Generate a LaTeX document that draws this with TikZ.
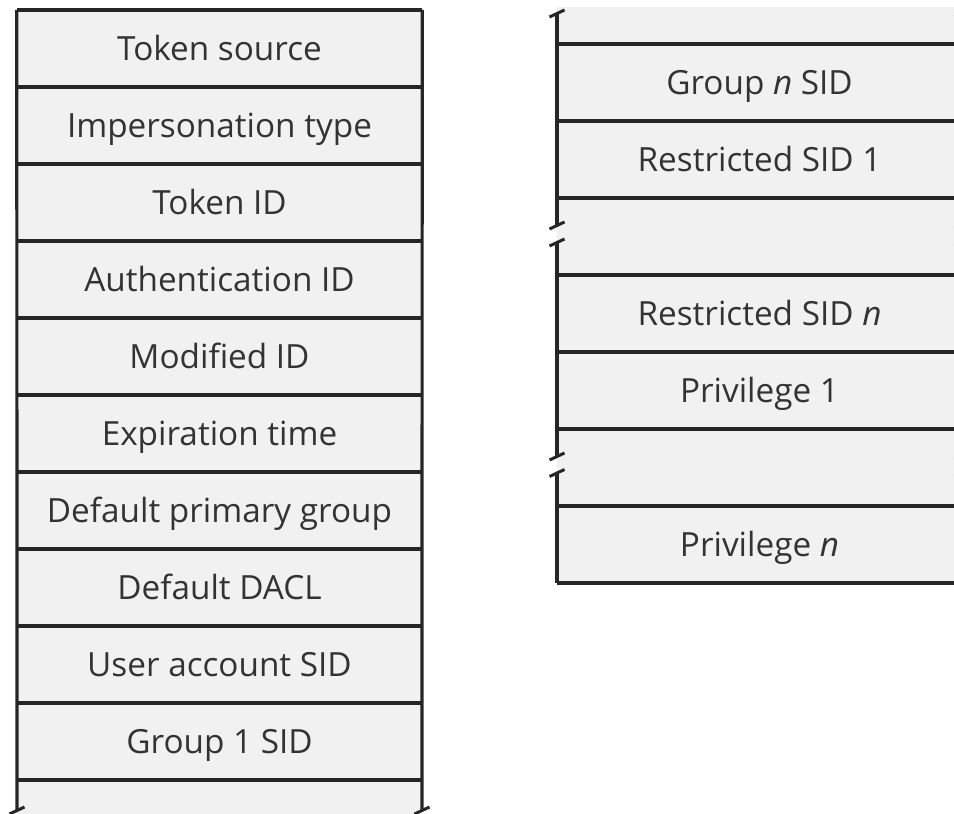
\documentclass[tikz,border=0pt]{standalone}
\usepackage{fontspec}
\setmainfont{Open Sans}
\begin{document}
\begin{tikzpicture}[x=1pt,y=-1pt,
  cell/.style={fill=cellgray, inner sep=0pt, minimum width=405pt, minimum height=77pt,
    text=txt, text height=24pt, text depth=0pt, font=\fontsize{33.3}{38}\selectfont},
  rule/.style={draw=ink, line width=3.6pt},
  side/.style={draw=ink, line width=3.2pt},
  brk/.style={draw=ink, line width=3pt}]
\definecolor{cellgray}{HTML}{F1F1F1}
\definecolor{ink}{HTML}{262626}
\definecolor{txt}{HTML}{333333}
\useasboundingbox (0,0) rectangle (954,814);
\clip (0,0) rectangle (954,814);

% ---- token fields, left column ----
\node[cell] (L1)  at (219.5,48.5)  {Token source};
\node[cell] (L2)  at (219.5,125.5) {Impersonation type};
\node[cell] (L3)  at (219.5,202.5) {Token ID};
\node[cell] (L4)  at (219.5,279.5) {Authentication ID};
\node[cell] (L5)  at (219.5,356.5) {Modified ID};
\node[cell] (L6)  at (219.5,433.5) {Expiration time};
\node[cell] (L7)  at (219.5,510.5) {Default primary group};
\node[cell] (L8)  at (219.5,587.5) {Default DACL};
\node[cell] (L9)  at (219.5,664.5) {User account SID};
\node[cell] (L10) at (219.5,741.5) {Group 1 SID};
\node[cell, minimum height=44pt] (L11) at (219.5,802) {};

% ---- token fields, right column ----
\node[cell, minimum height=37pt] (R0) at (759.5,25.5) {};
\node[cell] (R1) at (759.5,82.5)  {Group \textit{n} SID};
\node[cell] (R2) at (759.5,159.5) {Restricted SID 1};
\node[cell] (R3) at (759.5,236.5) {};
\node[cell] (R4) at (759.5,313.5) {Restricted SID \textit{n}};
\node[cell] (R5) at (759.5,390.5) {Privilege 1};
\node[cell] (R6) at (759.5,467.5) {};
\node[cell] (R7) at (759.5,544.5) {Privilege \textit{n}};

% ---- horizontal rules, left column ----
\draw[rule] (L1.north west) -- (L1.north east);
\foreach \n in {L1,L2,L3,L4,L5,L6,L7,L8,L9,L10}
  \draw[rule] (\n.south west) -- (\n.south east);

% ---- horizontal rules, right column ----
\foreach \n in {R0,R1,R2,R3,R4,R5,R6,R7}
  \draw[rule] (\n.south west) -- (\n.south east);

% ---- left column sides, open at the bottom ----
\coordinate (Lbl) at (17,810.5);
\coordinate (Lbr) at (422,810.5);
\draw[side] (L1.north west) -- (Lbl);
\draw[side] (L1.north east) -- (Lbr);
\draw[brk] (Lbl) ++(7.5,-3.5) -- ++(-15,7);
\draw[brk] (Lbr) ++(7.5,-3.5) -- ++(-15,7);

% ---- right column sides, broken three times ----
\foreach \x/\s in {557/a,962/b}{
  \coordinate (T\s)  at (\x,13.5);
  \coordinate (A\s)  at (\x,225.5);
  \coordinate (B\s)  at (\x,242.5);
  \coordinate (C\s)  at (\x,456.5);
  \coordinate (D\s)  at (\x,473);
  \draw[side] (T\s) -- (A\s);
  \draw[side] (B\s) -- (C\s);
  \draw[side] (D\s) -- (\x,583);
  \foreach \p in {T\s,A\s,B\s,C\s,D\s}
    \draw[brk] (\p) ++(7.5,-3.5) -- ++(-15,7);
}
\end{tikzpicture}
\end{document}
